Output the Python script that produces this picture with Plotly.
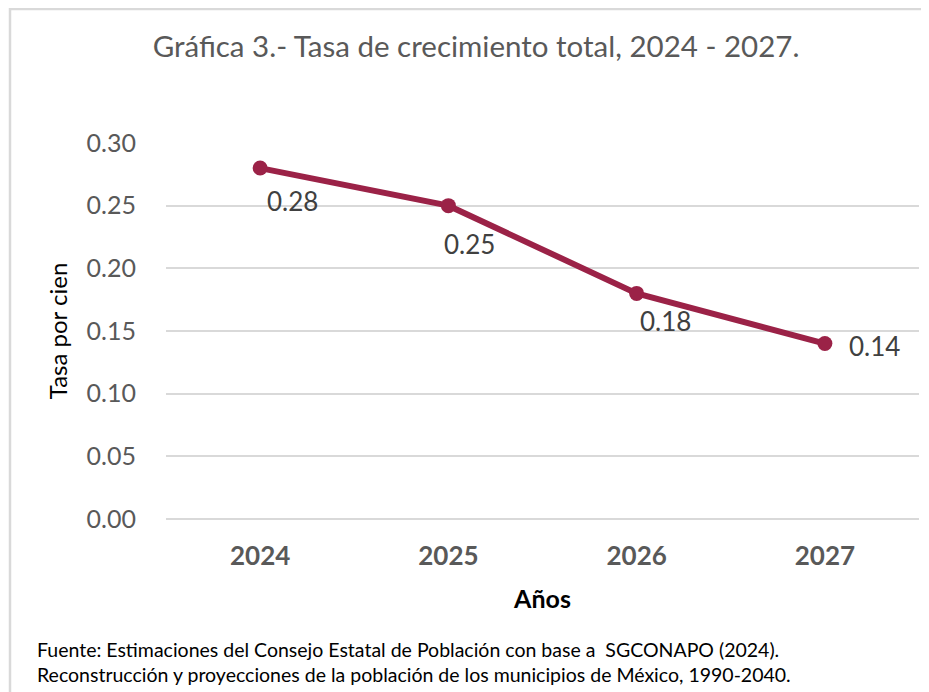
import plotly.graph_objects as go

# datos de la grafica
anios = ["2024", "2025", "2026", "2027"]
tasa = [0.28, 0.25, 0.18, 0.14]
etiquetas = ["0.28", "0.25", "0.18", "0.14"]
y_ticks = [0.0, 0.05, 0.10, 0.15, 0.20, 0.25, 0.30]

# desplazamiento de cada etiqueta respecto a su punto (px)
despl_x = [5, -6, 1, 22]
despl_y = [-33, -38, -28, -2]

GUINDA = "#9B2247"
GRIS = "#595959"
FUENTE = "Lato"

# la pagina deja 8px de margen, asi que la figura es 8px mas chica
W, H = 921, 684
ML, MR, MT, MB = 158, 10, 135, 173
pw = W - ML - MR
ph = H - MT - MB

fig = go.Figure()
fig.add_trace(go.Scatter(
    x=anios,
    y=tasa,
    mode="lines+markers",
    line=dict(color=GUINDA, width=6),
    marker=dict(color=GUINDA, size=15),
    cliponaxis=False,
    hoverinfo="x+y",
))

# en eje de categorias la anotacion se ubica por indice
for i, (v, t) in enumerate(zip(tasa, etiquetas)):
    fig.add_annotation(
        x=i, y=v, text=t, showarrow=False,
        xanchor="left", yanchor="middle",
        xshift=despl_x[i], yshift=despl_y[i],
        font=dict(family=FUENTE, size=26, color="#404040"),
    )

fig.update_layout(
    width=W,
    height=H,
    margin=dict(l=ML, r=MR, t=MT, b=MB),
    paper_bgcolor="white",
    plot_bgcolor="white",
    showlegend=False,
    font=dict(family=FUENTE, color=GRIS),
    title=dict(
        text="Gráfica 3.- Tasa de crecimiento total, 2024 - 2027.",
        x=468 / W, xanchor="center",
        y=1 - 39 / H, yanchor="middle",
        font=dict(family=FUENTE, size=29.5, color=GRIS),
    ),
)

fig.update_xaxes(
    type="category",
    range=[-0.5, 3.5],
    showgrid=False,
    showline=False,
    ticks="outside",
    ticklen=14,
    tickcolor="rgba(0,0,0,0)",
    tickfont=dict(family=FUENTE, size=26, color=GRIS, weight="bold"),
    title=dict(text="Años", standoff=20,
               font=dict(family=FUENTE, size=25, color="black", weight="bold")),
)

fig.update_yaxes(
    range=[0, 0.3],
    tickvals=y_ticks,
    tickformat=".2f",
    showgrid=True,
    gridcolor="#d9d9d9",
    gridwidth=1.5,
    zeroline=True,
    zerolinecolor="#d9d9d9",
    zerolinewidth=1.5,
    showline=False,
    ticks="outside",
    ticklen=24,
    tickcolor="rgba(0,0,0,0)",
    tickfont=dict(family=FUENTE, size=25, color=GRIS),
    title=dict(text="Tasa por cien", standoff=12,
               font=dict(family=FUENTE, size=24, color="black")),
)

# marco gris del cuadro (solo lados izquierdo y superior visibles)
x_borde = (2 - ML) / pw
y_borde = 1 + (MT - 1) / ph
x_der = 1 + (MR + 1) / pw
fig.add_shape(type="path", xref="paper", yref="paper",
              path=f"M {x_borde},-0.6 L {x_borde},{y_borde} L {x_der},{y_borde}",
              line=dict(color="#d9d9d9", width=2.5))

fig.add_annotation(
    text="Fuente: Estimaciones del Consejo Estatal de Población con base a  SGCONAPO (2024).<br>"
         "Reconstrucción y proyecciones de la población de los municipios de México, 1990-2040.",
    xref="paper", yref="paper",
    x=(27 - ML) / pw, y=(H - MB - 628) / ph,
    xanchor="left", yanchor="top", align="left",
    showarrow=False,
    font=dict(family=FUENTE, size=19.5, color="black"),
)

fig.write_html("out.html", config={"displayModeBar": False})
